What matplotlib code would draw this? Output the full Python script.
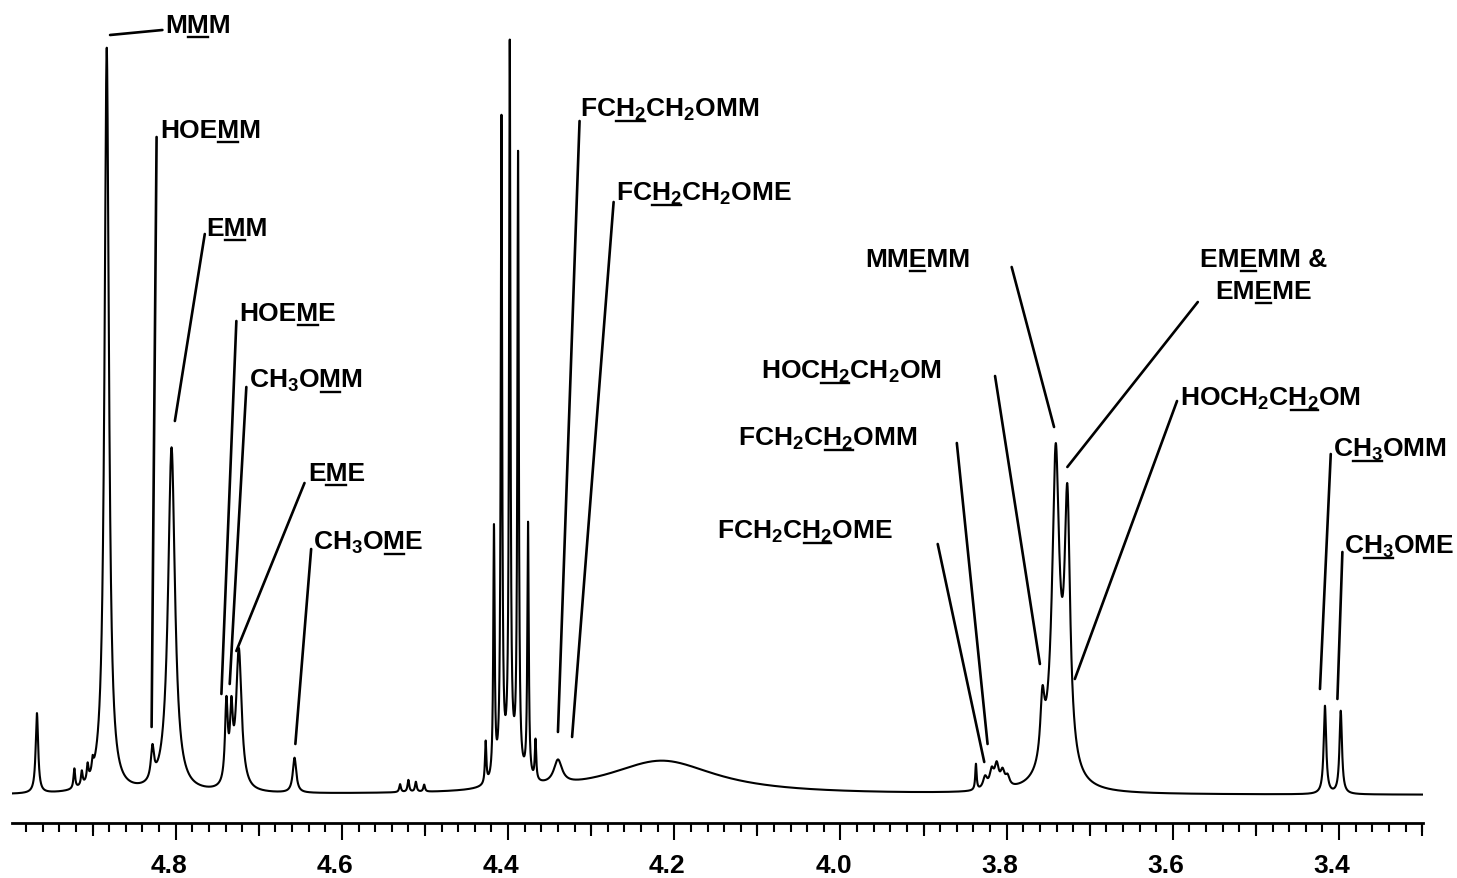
import numpy as np
import matplotlib
matplotlib.use("Agg")
import matplotlib.pyplot as plt
from matplotlib.lines import Line2D
from matplotlib.ticker import MultipleLocator, NullLocator
from matplotlib.transforms import ScaledTranslation, IdentityTransform

plt.rcParams['font.family'] = ['Liberation Sans', 'DejaVu Sans']
plt.rcParams['font.weight'] = 'bold'
plt.rcParams['mathtext.fontset'] = 'custom'
plt.rcParams['mathtext.rm'] = 'Liberation Sans:bold'
plt.rcParams['mathtext.it'] = 'Liberation Sans:bold'
plt.rcParams['mathtext.bf'] = 'Liberation Sans:bold'

# ---------------- data ----------------
peak_ppm = [4.967, 4.922, 4.913, 4.906, 4.900, 4.883, 4.828, 4.805,
            4.739, 4.733, 4.724, 4.657,
            4.530, 4.520, 4.511, 4.501,
            4.427, 4.417, 4.408, 4.398, 4.388, 4.376, 4.367, 4.398,
            4.340, 4.215,
            3.837, 3.826, 3.818, 3.812, 3.805, 3.799,
            3.757, 3.741, 3.727, 3.740,
            3.417, 3.398]
peak_height = [80, 20, 14, 16, 12, 745, 32, 345,
               80, 65, 140, 35,
               8, 12, 10, 7,
               42, 250, 652, 714, 616, 255, 40, 22,
               24, 34,
               26, 12, 17, 22, 15, 10,
               60, 265, 252, 65,
               88, 83]
peak_hwhm = [0.0018, 0.0012, 0.0012, 0.0012, 0.0012, 0.0032, 0.0022, 0.0050,
             0.0020, 0.0020, 0.0040, 0.0025,
             0.0012, 0.0012, 0.0012, 0.0012,
             0.0010, 0.0010, 0.0010, 0.0010, 0.0010, 0.0010, 0.0010, 0.0100,
             0.0060, 0.0800,
             0.0010, 0.0030, 0.0030, 0.0030, 0.0030, 0.0030,
             0.0030, 0.0048, 0.0040, 0.0120,
             0.0018, 0.0018]

tick_values = [4.8, 4.6, 4.4, 4.2, 4.0, 3.8, 3.6, 3.4]
tick_labels = ["4.8", "4.6", "4.4", "4.2", "4.0", "3.8", "3.6", "3.4"]
mid_tick_values = [4.9, 4.7, 4.5, 4.3, 4.1, 3.9, 3.7, 3.5, 3.3]

# labels: (prefix, underlined part, suffix, text x, text y, ha,
#          leader start (x, y), leader end (x, y))
labels = [
    ("M", "M", "M", 4.813, 763, "left", (4.879, 760), (4.816, 765)),
    ("HOE", "M", "M", 4.819, 658, "left", (4.829, 68), (4.823, 658)),
    ("E", "M", "M", 4.763, 560, "left", (4.801, 374), (4.765, 561)),
    ("HOE", "M", "E", 4.723, 475, "left", (4.745, 101), (4.727, 474)),
    ("CH$_3$O", "M", "M", 4.712, 408, "left", (4.735, 111), (4.715, 408)),
    ("E", "M", "E", 4.641, 315, "left", (4.727, 144), (4.645, 312)),
    ("CH$_3$O", "M", "E", 4.635, 246, "left", (4.656, 51), (4.637, 246)),
    ("FC", "H$_2$", "CH$_2$OMM", 4.314, 679, "left", (4.340, 63), (4.314, 674)),
    ("FC", "H$_2$", "CH$_2$OME", 4.270, 595, "left", (4.323, 58), (4.273, 593)),
    ("MM", "E", "MM", 3.844, 529, "right", (3.743, 368), (3.794, 528)),
    ("EM", "E", "MM &", 3.567, 529, "left", (3.727, 328), (3.570, 493)),
    ("EM", "E", "ME", 3.549, 497, "left", None, None),
    ("HOC", "H$_2$", "CH$_2$OM", 3.878, 417, "right", (3.760, 131), (3.814, 419)),
    ("FCH$_2$C", "H$_2$", "OMM", 3.907, 350, "right", (3.823, 51), (3.860, 352)),
    ("FCH$_2$C", "H$_2$", "OME", 3.937, 257, "right", (3.827, 33), (3.883, 251)),
    ("HOCH$_2$C", "H$_2$", "OM", 3.591, 390, "left", (3.718, 116), (3.595, 394)),
    ("C", "H$_3$", "OMM", 3.407, 339, "left", (3.423, 106), (3.410, 341)),
    ("C", "H$_3$", "OME", 3.394, 242, "left", (3.402, 96), (3.396, 243)),
]

# ---------------- figure ----------------
W, H = 1457, 879
fig = plt.figure(figsize=(W / 100, H / 100), dpi=100)
ax = fig.add_axes([12 / W, 55 / H, (1423 - 12) / W, 824 / H])

ppm = np.linspace(5.0, 3.29, 40000)
spec = np.zeros_like(ppm)
for c, h, w in zip(peak_ppm, peak_height, peak_hwhm):
    spec += h * w ** 2 / ((ppm - c) ** 2 + w ** 2)
ax.plot(ppm, spec, color="black", lw=1.5)

ax.set_xlim(4.997, 3.299)
ax.set_ylim(-28, 796)
for s in ("top", "left", "right"):
    ax.spines[s].set_visible(False)
ax.spines["bottom"].set_linewidth(2.0)
ax.set_yticks([])
ax.set_xticks(tick_values)
ax.set_xticklabels(tick_labels)
ax.xaxis.set_minor_locator(MultipleLocator(0.02))
ax.tick_params(axis="x", which="major", direction="out", length=12.5, width=1.5,
               labelsize=19, pad=9)
ax.tick_params(axis="x", which="minor", direction="out", length=6.5, width=1.5)
for lab in ax.get_xticklabels():
    lab.set_fontweight("bold")
    lab.set_transform(lab.get_transform() + ScaledTranslation(-7 / 100, 0, fig.dpi_scale_trans))

sec = ax.secondary_xaxis("bottom")
sec.set_xticks(mid_tick_values)
sec.xaxis.set_minor_locator(NullLocator())
sec.tick_params(axis="x", direction="out", length=9.5, width=1.5, labelbottom=False)
sec.spines["bottom"].set_visible(False)

FS = 19
fig.canvas.draw()
renderer = fig.canvas.get_renderer()


def text_width(s):
    if not s:
        return 0.0
    t = ax.text(0, 0, s, fontsize=FS, fontweight="bold")
    w = t.get_window_extent(renderer).width
    t.remove()
    return w


for pre, und, post, tx, ty, ha, p0, p1 in labels:
    full = pre + und + post
    ax.text(tx, ty, full, fontsize=FS, fontweight="bold", ha=ha, va="baseline")
    if p0 is not None:
        ax.annotate("", xy=p0, xytext=p1,
                    arrowprops=dict(arrowstyle="-", lw=1.9, color="black",
                                    shrinkA=0, shrinkB=0))
    wf = text_width(full)
    wp = text_width(pre)
    wu = text_width(pre + und)
    X, Y = ax.transData.transform((tx, ty))
    x0 = X if ha == "left" else X - wf
    fig.add_artist(Line2D([x0 + wp + 1, x0 + wu - 1], [Y - 5, Y - 5],
                          color="black", lw=1.7, transform=IdentityTransform()))

fig.savefig("out.png", dpi=100, facecolor="white")
